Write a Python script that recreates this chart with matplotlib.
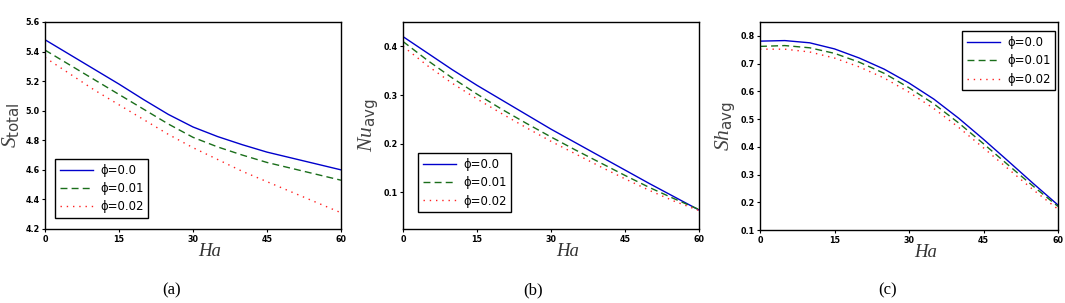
import matplotlib
matplotlib.use("Agg")
import matplotlib.pyplot as plt

Ha = [0, 5, 10, 15, 20, 25, 30, 35, 40, 45, 50, 55, 60]

# (a) S_total
S_phi0 = [5.48, 5.38, 5.28, 5.18, 5.075, 4.975, 4.89, 4.825, 4.77, 4.72, 4.68, 4.64, 4.60]
S_phi1 = [5.41, 5.31, 5.21, 5.11, 5.01, 4.91, 4.82, 4.755, 4.70, 4.65, 4.61, 4.57, 4.53]
S_phi2 = [5.36, 5.25, 5.14, 5.04, 4.94, 4.84, 4.75, 4.67, 4.59, 4.52, 4.45, 4.38, 4.31]

# (b) Nu_avg
Nu_phi0 = [0.420, 0.386, 0.352, 0.320, 0.290, 0.260, 0.230, 0.202, 0.174, 0.146, 0.118, 0.091, 0.064]
Nu_phi1 = [0.410, 0.371, 0.335, 0.302, 0.271, 0.242, 0.214, 0.187, 0.161, 0.135, 0.110, 0.087, 0.065]
Nu_phi2 = [0.400, 0.360, 0.324, 0.292, 0.262, 0.233, 0.205, 0.179, 0.153, 0.128, 0.104, 0.082, 0.063]

# (c) Sh_avg
Sh_phi0 = [0.781, 0.783, 0.775, 0.753, 0.720, 0.680, 0.630, 0.572, 0.503, 0.427, 0.348, 0.268, 0.190]
Sh_phi1 = [0.762, 0.765, 0.757, 0.737, 0.705, 0.665, 0.613, 0.555, 0.486, 0.411, 0.334, 0.258, 0.185]
Sh_phi2 = [0.752, 0.752, 0.742, 0.720, 0.688, 0.648, 0.597, 0.538, 0.470, 0.396, 0.320, 0.245, 0.175]

labels = ["ϕ=0.0", "ϕ=0.01", "ϕ=0.02"]
xticks = [0, 15, 30, 45, 60]

plt.rcParams['mathtext.fontset'] = 'custom'
plt.rcParams['mathtext.rm'] = 'Liberation Serif'
plt.rcParams['mathtext.it'] = 'Liberation Serif:italic'
plt.rcParams['mathtext.sf'] = 'DejaVu Sans'

fig = plt.figure(figsize=(10.65, 3.03), dpi=100)

W, H = 1065, 303
def ax_at(l, r, t, b):
    return fig.add_axes([l / W, (H - b) / H, (r - l) / W, (b - t) / H])

axes = [ax_at(45, 341, 22, 229), ax_at(403, 699, 22, 229), ax_at(760, 1058, 22, 230)]

data = [(S_phi0, S_phi1, S_phi2), (Nu_phi0, Nu_phi1, Nu_phi2), (Sh_phi0, Sh_phi1, Sh_phi2)]
ylims = [(4.2, 5.6), (0.025, 0.45), (0.1, 0.85)]
yticks = [[4.2, 4.4, 4.6, 4.8, 5.0, 5.2, 5.4, 5.6],
          [0.1, 0.2, 0.3, 0.4],
          [0.1, 0.2, 0.3, 0.4, 0.5, 0.6, 0.7, 0.8]]
ylabels = [r'$S_{\mathsf{total}}$', r'$Nu_{\mathsf{avg}}$', r'$Sh_{\mathsf{avg}}$']
captions = ['(a)', '(b)', '(c)']
cap_x = [172, 533, 888]

leg_cfg = [dict(loc='lower left', bbox_to_anchor=(0.034, 0.053)),
           dict(loc='lower left', bbox_to_anchor=(0.052, 0.081)),
           dict(loc='upper right', bbox_to_anchor=(0.991, 0.955))]

for i, ax in enumerate(axes):
    y0, y1, y2 = data[i]
    ax.plot(Ha, y0, color='#0000cc', lw=1.0, ls='-', label=labels[0])
    ax.plot(Ha, y1, color='#1a6e1a', lw=1.0, ls=(0, (5, 3)), label=labels[1])
    ax.plot(Ha, y2, color='#ff2020', lw=1.0, ls=(0, (1, 3.5)), label=labels[2])
    ax.set_xlim(0, 60)
    ax.set_ylim(*ylims[i])
    ax.set_xticks(xticks)
    ax.set_yticks(yticks[i])
    ax.tick_params(direction='out', length=2.5, width=0.8, labelsize=5.8, pad=1.5,
                   top=False, right=False)
    for lab in ax.get_xticklabels() + ax.get_yticklabels():
        lab.set_fontweight('bold')
    for sp in ax.spines.values():
        sp.set_linewidth(1.0)
    ax.set_xlabel('Ha', fontsize=13.5, fontfamily='Liberation Serif', style='italic',
                  color='#333333')
    ax.xaxis.set_label_coords(0.555, -0.11)
    ax.xaxis.label.set_va('center')
    ax.set_ylabel(ylabels[i], fontsize=15.5, color='#444444')
    ax.yaxis.set_label_coords(-0.115, 0.5)
    ax.yaxis.label.set_va('center')
    leg = ax.legend(fontsize=8.5, frameon=True, fancybox=False, edgecolor='black',
                    framealpha=1, borderaxespad=0, handlelength=2.8, handletextpad=0.6,
                    labelspacing=0.45, borderpad=0.4, **leg_cfg[i])
    leg.get_frame().set_linewidth(1.0)
    fig.text(cap_x[i] / W, (H - 290) / H, captions[i], fontsize=12,
             fontfamily='Liberation Serif', ha='center', va='center')

fig.savefig('out.png', dpi=100)
